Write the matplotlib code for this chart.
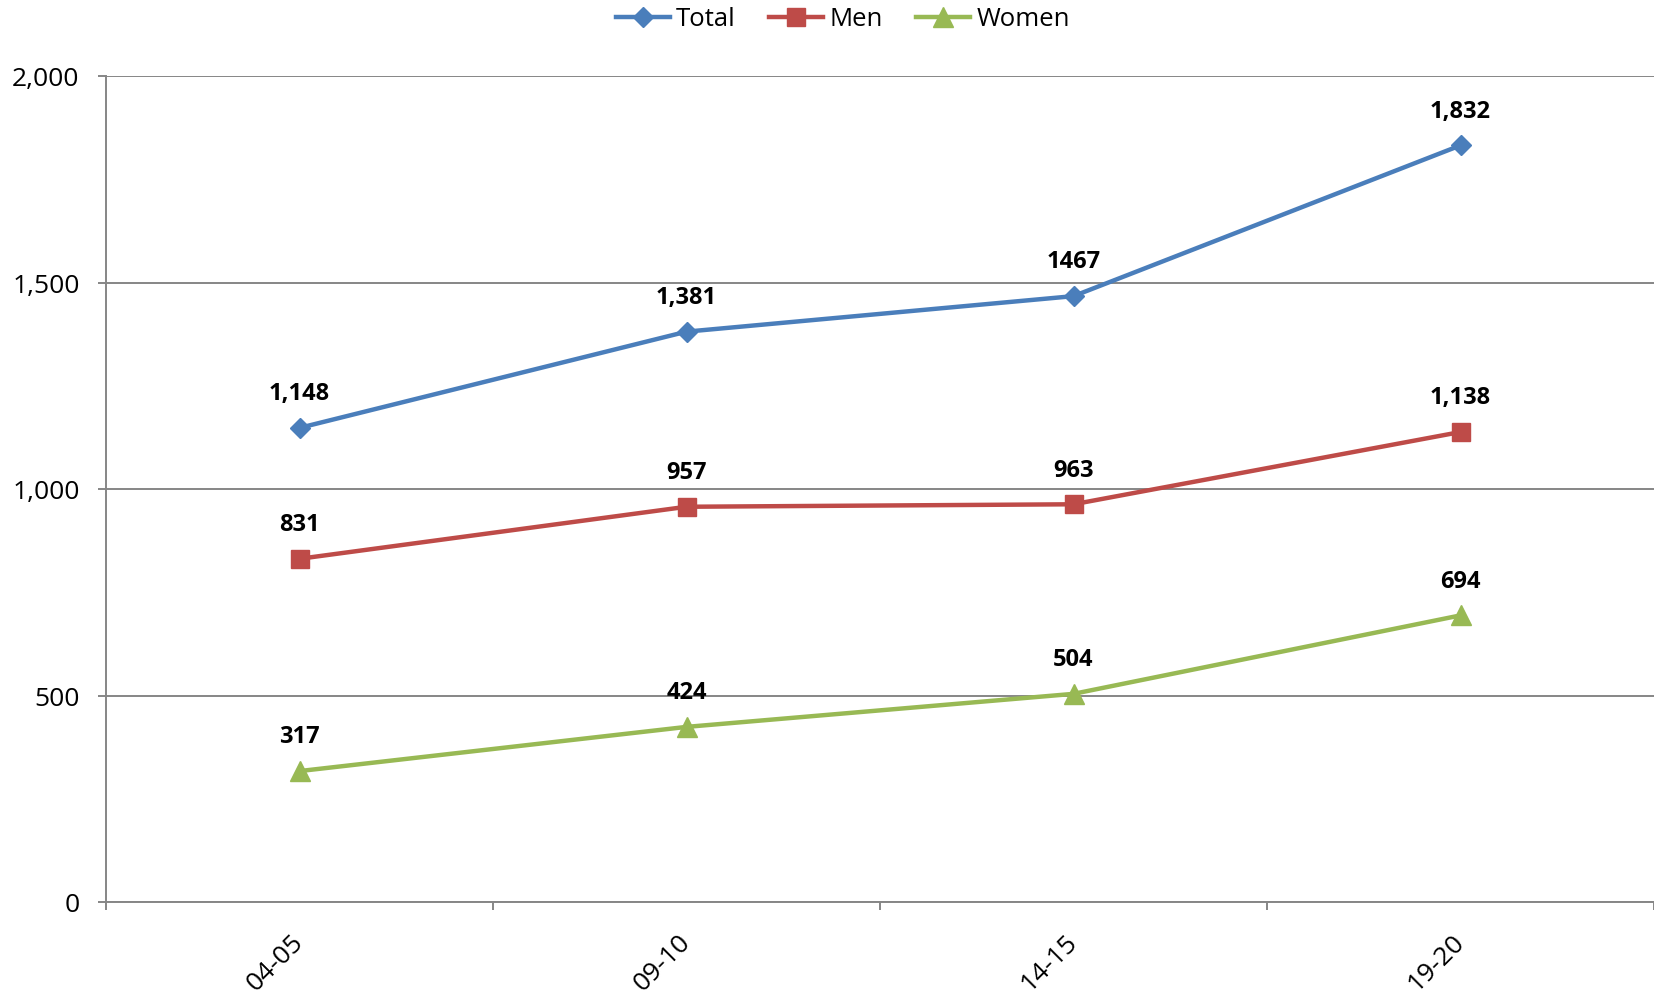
import matplotlib
matplotlib.use('Agg')
import matplotlib.pyplot as plt
from matplotlib.ticker import FuncFormatter, FixedLocator

plt.rcParams['font.family'] = ['Open Sans', 'DejaVu Sans']

years = ['04-05', '09-10', '14-15', '19-20']
total = [1148, 1381, 1467, 1832]
men = [831, 957, 963, 1138]
women = [317, 424, 504, 694]
total_labels = ['1,148', '1,381', '1467', '1,832']
men_labels = ['831', '957', '963', '1,138']
women_labels = ['317', '424', '504', '694']

GRID = '#868686'

fig = plt.figure(figsize=(16.54, 9.95), dpi=100)
ax = fig.add_axes([106 / 1654, 92 / 995, 1 - 106 / 1654, (903 - 77) / 995])

x = list(range(len(years)))
series = [
    ('Total', total, total_labels, '#4A7EBB', 'D', 10),
    ('Men', men, men_labels, '#BE4B48', 's', 13),
    ('Women', women, women_labels, '#98B954', '^', 14),
]
for name, vals, labels, color, marker, ms in series:
    ax.plot(x, vals, color=color, linewidth=3.2, marker=marker,
            markersize=ms, label=name, clip_on=False, zorder=3)
    for xi, v, lab in zip(x, vals, labels):
        ax.annotate(lab, (xi, v), xytext=(0, 25), textcoords='offset points',
                    ha='center', va='center', fontsize=17, fontweight='bold')

ax.set_xlim(-0.5, 3.5)
ax.set_ylim(0, 2000)
ax.set_yticks([0, 500, 1000, 1500, 2000])
ax.yaxis.set_major_formatter(FuncFormatter(lambda v, p: f'{int(v):,}'))
ax.grid(axis='y', color=GRID, linewidth=1.4)
ax.set_axisbelow(True)

ax.set_xticks(x)
ax.set_xticklabels(years, rotation=45, ha='right', va='center',
                   rotation_mode='anchor', fontsize=19)
ax.xaxis.set_minor_locator(FixedLocator([-0.5, 0.5, 1.5, 2.5, 3.5]))
ax.tick_params(axis='x', which='major', length=0, pad=26)
ax.tick_params(axis='x', which='minor', length=6, width=1.4, color=GRID,
               direction='out')
ax.tick_params(axis='y', length=6, width=1.4, color=GRID, pad=13,
               labelsize=19)

for side in ['top', 'right']:
    ax.spines[side].set_visible(False)
for side in ['left', 'bottom']:
    ax.spines[side].set_color(GRID)
    ax.spines[side].set_linewidth(1.4)

fig.legend(loc='center', bbox_to_anchor=(843 / 1654, 1 - 20 / 995), ncol=3,
           frameon=False, fontsize=18.5, handlelength=2.1, handletextpad=0.25,
           columnspacing=1.3)

fig.savefig('out.png', dpi=100)
plt.close(fig)
